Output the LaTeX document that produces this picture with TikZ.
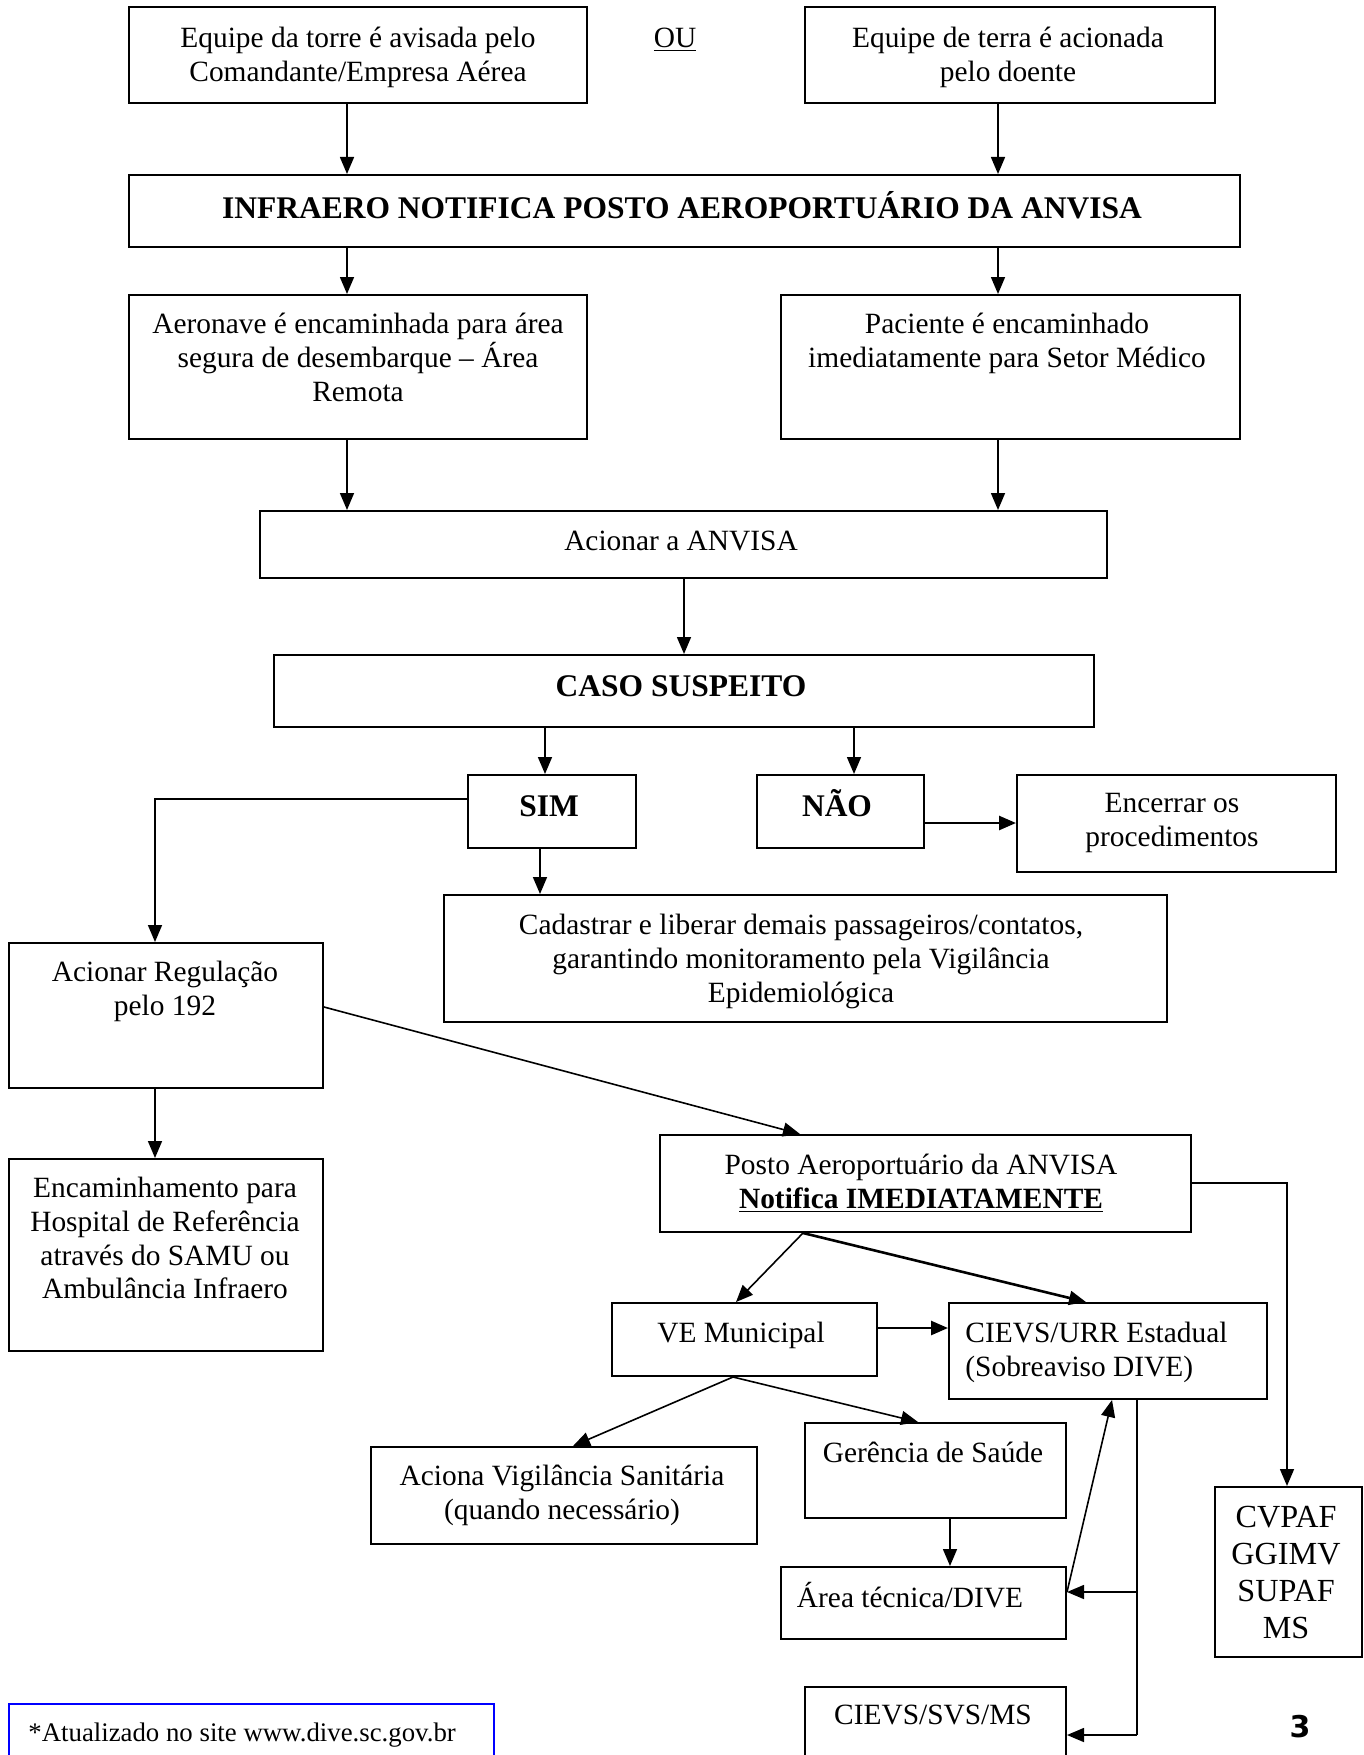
\documentclass[tikz,border=0pt]{standalone}
\usepackage{fontspec}
\setmainfont{Liberation Serif}
\newfontfamily\pagenumfont{DejaVu Sans}
\usetikzlibrary{arrows.meta,fit}
\begin{document}
\begin{tikzpicture}[x=0.5pt,y=-0.5pt,
 box/.style={draw, line width=1pt, inner sep=0pt},
 arr/.style={line width=0.8pt, -{Triangle[length=8.5pt,width=7pt]}},
 tarr/.style={line width=1.3pt, -{Triangle[length=8.5pt,width=7pt]}},
 ln/.style={line width=0.8pt},
 txtbase/.style={anchor=north, inner sep=0pt, align=center},
 txt/.style={txtbase, font=\fontsize{14.7}{16.8}\selectfont, execute at begin node={\rule{0pt}{14pt}}},
 btxt/.style={txtbase, font=\fontsize{15.75}{18}\bfseries\selectfont, execute at begin node={\rule{0pt}{15pt}}},
 ctxt/.style={txtbase, font=\fontsize{16.1}{18.5}\selectfont, execute at begin node={\rule{0pt}{15.5pt}}},
]
\useasboundingbox (0,0) rectangle (1364,1755);

% boxes
\node[box, fit={(129,7) (587,103)}] (torre) {};
\node[box, fit={(805,7) (1215,103)}] (terra) {};
\node[box, fit={(129,175) (1240,247)}] (infra) {};
\node[box, fit={(129,295) (587,439)}] (aeronave) {};
\node[box, fit={(781,295) (1240,439)}] (paciente) {};
\node[box, fit={(260,511) (1107,578)}] (anvisa) {};
\node[box, fit={(274,655) (1094,727)}] (caso) {};
\node[box, fit={(468,775) (636,848)}] (sim) {};
\node[box, fit={(757,775) (924,848)}] (nao) {};
\node[box, fit={(1017,775) (1336,872)}] (encerrar) {};
\node[box, fit={(444,895) (1167,1022)}] (cadastrar) {};
\node[box, fit={(9,943) (323,1088)}] (reg) {};
\node[box, fit={(9,1159) (323,1351)}] (encam) {};
\node[box, fit={(660,1135) (1191,1232)}] (posto) {};
\node[box, fit={(612,1303) (877,1376)}] (ve) {};
\node[box, fit={(949,1303) (1267,1399)}] (cievs) {};
\node[box, fit={(371,1447) (757,1544)}] (aciona) {};
\node[box, fit={(805,1423) (1066,1518)}] (ger) {};
\node[box, fit={(781,1567) (1066,1639)}] (area) {};
\node[box, fit={(1215,1487) (1362,1657)}] (cvpaf) {};
\node[box, fit={(805,1687) (1066,1765)}] (svs) {};
\node[box, draw=blue, fit={(9,1704) (494,1765)}] (foot) {};

% texts
\node[txt] (torreT) at (358,27) {Equipe da torre é avisada pelo\\Comandante/Empresa Aérea};
\node[txt] (ouT) at (675,19) {\underline{OU}};
\node[txt] (terraT) at (1008,27) {Equipe de terra é acionada\\pelo doente};
\node[btxt] (infraT) at (682,188) {INFRAERO NOTIFICA POSTO AEROPORTUÁRIO DA ANVISA};
\node[txt] (aeronaveT) at (358,313) {Aeronave é encaminhada para área\\segura de desembarque – Área\\Remota};
\node[txt] (pacienteT) at (1007,313) {Paciente é encaminhado\\imediatamente para Setor Médico};
\node[txt] (anvisaT) at (681,522) {Acionar a ANVISA};
\node[btxt] (casoT) at (681,666) {CASO SUSPEITO};
\node[btxt] (simT) at (549,786) {SIM};
\node[btxt] (naoT) at (837,786) {NÃO};
\node[txt] (encerrarT) at (1172,793) {Encerrar os\\procedimentos};
\node[txt] (cadastrarT) at (801,914) {Cadastrar e liberar demais passageiros/contatos,\\garantindo monitoramento pela Vigilância\\Epidemiológica};
\node[txt] (regT) at (165,961) {Acionar Regulação\\pelo 192};
\node[txt] (encamT) at (165,1177) {Encaminhamento para\\Hospital de Referência\\através do SAMU ou\\Ambulância Infraero};
\node[txt] (postoT) at (921,1154) {Posto Aeroportuário da ANVISA\\\underline{\textbf{Notifica IMEDIATAMENTE}}};
\node[txt] (veT) at (741,1314) {VE Municipal};
\node[txt, anchor=north west, align=left] (cievsT) at (965,1322) {CIEVS/URR Estadual\\(Sobreaviso DIVE)};
\node[txt] (acionaT) at (562,1465) {Aciona Vigilância Sanitária\\(quando necessário)};
\node[txt] (gerT) at (933,1434) {Gerência de Saúde};
\node[txt] (areaT) at (910,1579) {Área técnica/DIVE};
\node[ctxt] (cvpafT) at (1286,1506) {CVPAF\\GGIMV\\SUPAF\\MS};
\node[txt] (svsT) at (933,1696) {CIEVS/SVS/MS};
\node[txtbase, anchor=north west, font=\fontsize{13.4}{15}\selectfont, execute at begin node={\rule{0pt}{13pt}}] (footT) at (28,1715) {*Atualizado no site www.dive.sc.gov.br};
\node[inner sep=0pt, font=\pagenumfont\bfseries\fontsize{15}{18}\selectfont] (pagenum) at (1300,1727) {3};

% connectors
\draw[arr] (torre.south -| 347,0) -- (infra.north -| 347,0);
\draw[arr] (terra.south -| 998,0) -- (infra.north -| 998,0);
\draw[arr] (infra.south -| 347,0) -- (aeronave.north -| 347,0);
\draw[arr] (infra.south -| 998,0) -- (paciente.north -| 998,0);
\draw[arr] (aeronave.south -| 347,0) -- (anvisa.north -| 347,0);
\draw[arr] (paciente.south -| 998,0) -- (anvisa.north -| 998,0);
\draw[arr] (anvisa.south -| 684,0) -- (caso.north -| 684,0);
\draw[arr] (caso.south -| 545,0) -- (sim.north -| 545,0);
\draw[arr] (caso.south -| 854,0) -- (nao.north -| 854,0);
\draw[tarr] (nao.east |- 0,823) -- (encerrar.west |- 0,823);
\draw[arr] (sim.south -| 540,0) -- (cadastrar.north -| 540,0);
\draw[arr] (sim.west |- 0,799) -| (reg.north -| 155,0);
\draw[arr] (reg.south -| 155,0) -- (encam.north -| 155,0);
\draw[arr] (reg.east |- 0,1007) -- (posto.north -| 800,0);
\draw[arr] (posto.east |- 0,1183) -| (cvpaf.north -| 1287,0);
\draw[arr] (posto.south -| 803,0) -- (ve.north -| 736,0);
\draw[tarr] (posto.south -| 803,0) -- (cievs.north -| 1086,0);
\draw[tarr] (ve.east |- 0,1328) -- (cievs.west |- 0,1328);
\draw[arr] (ve.south -| 733,0) -- (aciona.north -| 573,0);
\draw[arr] (ve.south -| 733,0) -- (ger.north -| 918,0);
\draw[arr] (ger.south -| 950,0) -- (area.north -| 950,0);
\coordinate (j1) at (1137,1592);
\coordinate (j2) at (1137,1735);
\draw[ln] (cievs.south -| j1) -- (j2);
\draw[arr] (j1) -- (area.east |- j1);
\draw[arr] (j2) -- (svs.east |- j2);
\draw[arr] (area.east |- j1) -- (cievs.south -| 1112,0);
\end{tikzpicture}
\end{document}
